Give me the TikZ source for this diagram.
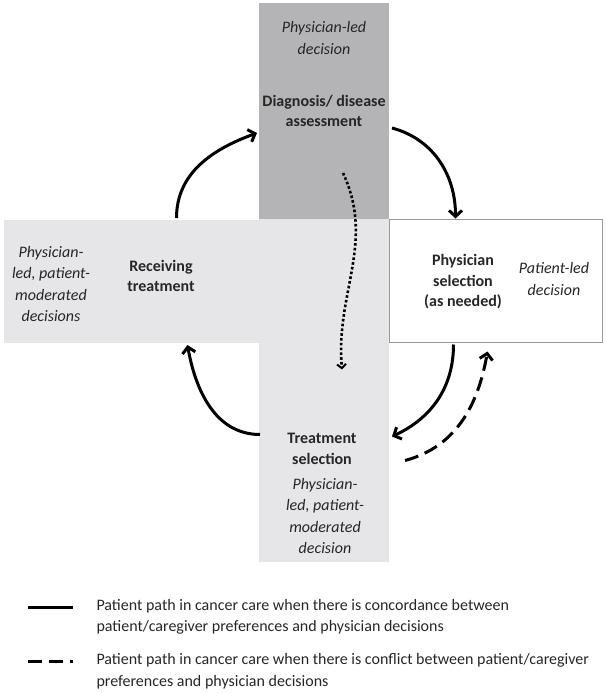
\documentclass[tikz,border=0pt]{standalone}
\usepackage{fontspec}
\setmainfont{Carlito}
\usetikzlibrary{arrows.meta,calc}
\definecolor{DarkGrey}{HTML}{B4B4B6}
\definecolor{LightGrey}{HTML}{E6E6E8}
\definecolor{EdgeGrey}{HTML}{9A9A9C}

\begin{document}
\begin{tikzpicture}[
  x=1pt,y=1pt,
  box/.style={inner sep=0pt,outer sep=0pt},
  stage/.style={font=\bfseries\fontsize{16}{20.5}\selectfont,align=center,text=black!85},
  role/.style={font=\itshape\fontsize{16}{21.5}\selectfont,align=center,text=black!85},
  legend/.style={font=\fontsize{16}{21.5}\selectfont,align=left,anchor=west,text=black!85},
  arr/.style={-{Straight Barb[length=6pt,width=13pt,line width=3pt]},line width=3pt},
  dasharr/.style={arr,dash pattern=on 14pt off 7pt},
  dotarr/.style={-{Straight Barb[length=4pt,width=9pt,line width=2pt]},line width=2.6pt,dash pattern=on 2.6pt off 2.2pt}
]
\useasboundingbox (0,0) rectangle (606,-693);
% the four stages
\node[box,fill=DarkGrey,minimum width=130pt,minimum height=216pt] (diagbox) at (324,-111) {};
\node[box,fill=LightGrey,minimum width=255pt,minimum height=123pt] (recvbox) at (131.5,-281.5) {};
\node[box,fill=LightGrey,minimum width=130pt,minimum height=343pt] (treatbox) at (324,-390.5) {};
\node[box,fill=white,draw=EdgeGrey,line width=1pt,minimum width=213pt,minimum height=123pt] (selbox) at (495.5,-281) {};
% labels
\node[role] (diagrole) at (324,-38) {Physician-led\\decision};
\node[stage] (diaglbl) at (324,-111) {Diagnosis/ disease\\assessment};
\node[role] (recvrole) at (51,-284) {Physician-\\led, patient-\\moderated\\decisions};
\node[stage] (recvlbl) at (161,-276) {Receiving\\treatment};
\node[stage] (sellbl) at (463,-282) {Physician\\selection\\(as needed)};
\node[role] (selrole) at (554,-279) {Patient-led\\decision};
\node[stage] (treatlbl) at (322,-449) {Treatment\\selection};
\node[role] (treatrole) at (325,-516) {Physician-\\led, patient-\\moderated\\decision};
% patient path
\draw[arr] ([xshift=45pt,yshift=2pt]recvbox.north) to[out=90,in=200] ([xshift=-2pt,yshift=-22pt]diagbox.west);
\draw[arr] ([xshift=3pt,yshift=-17pt]diagbox.east) to[out=-15,in=90] ([xshift=-40pt,yshift=1pt]selbox.north);
\draw[arr] ([xshift=-42pt,yshift=-2pt]selbox.south) to[out=-90,in=25] ([xshift=3pt,yshift=-46pt]treatbox.east);
\draw[arr] ([xshift=1pt,yshift=-44pt]treatbox.west) to[out=180,in=-80] ([xshift=56pt,yshift=-2pt]recvbox.south);
\draw[dasharr] ([xshift=16pt,yshift=-70pt]treatbox.east) to[out=15,in=-100] ([xshift=-8pt,yshift=-9pt]selbox.south);
\draw[dotarr] ([xshift=19pt,yshift=-62pt]diagbox.center) to[out=-65,in=95] ([xshift=18pt,yshift=21pt]treatbox.center);
% legend
\coordinate (solA) at (28,-607);
\coordinate (solB) at (73,-607);
\coordinate (dasA) at (28,-661);
\coordinate (dasB) at (73,-661);
\draw[line width=3pt] (solA) -- (solB);
\draw[line width=3pt,dash pattern=on 14pt off 7pt] (dasA) -- (dasB);
\node[legend] (solnote) at (93,-617) {Patient path in cancer care when there is concordance between\\patient/caregiver preferences and physician decisions};
\node[legend] (dasnote) at (93,-671) {Patient path in cancer care when there is conflict between patient/caregiver\\preferences and physician decisions};
\end{tikzpicture}
\end{document}
